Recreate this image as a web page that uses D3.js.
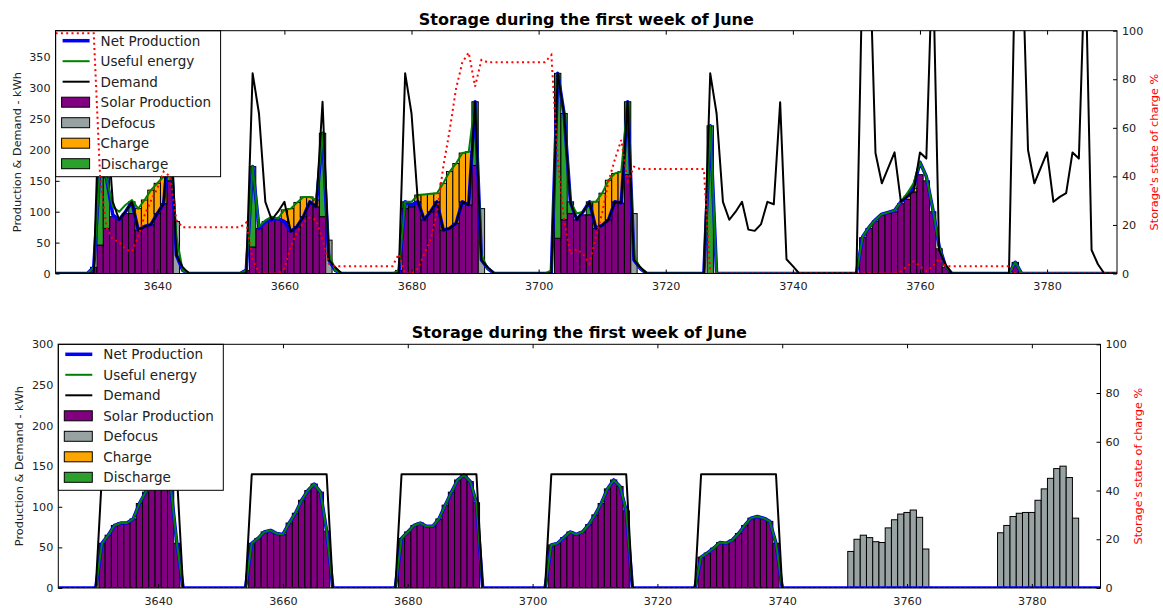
<!DOCTYPE html>
<html>
<head>
<meta charset="utf-8">
<script src="https://cdn.jsdelivr.net/npm/d3@7"></script>
<style>
  body { margin: 0; background: #fff; }
  svg text { font-family: "DejaVu Sans", sans-serif; }
</style>
</head>
<body>
<div class="chart-holder"></div>
<script>
// Hours of the year shown on the x axis (one value per hour, 7 rows of 24)
const hours = d3.range(3624, 3792);
const xTicks = [3640, 3660, 3680, 3700, 3720, 3740, 3760, 3780];
const socTicks = [0, 20, 40, 60, 80, 100];

// ---- top panel data (kWh, one row per day) ----
const topSolar = [
  0,0,0,0,0,0,10,46,73,92,87,97,97,70,76,79,97,113,150,0,0,0,0,0,
  0,0,0,0,0,0,5,43,73,84,87,89,84,68,76,92,112,108,92,0,0,0,0,0,
  0,0,0,0,0,0,5,105,108,116,87,100,116,70,73,81,116,111,175,0,0,0,0,0,
  0,0,0,0,0,0,0,57,87,97,87,95,95,73,78,87,116,114,160,0,0,0,0,0,
  0,0,0,0,0,0,0,0,0,0,0,0,0,0,0,0,0,0,0,0,0,0,0,0,
  0,0,0,0,0,0,0,58,73,85,94,97,100,113,120,132,160,150,100,40,10,0,0,0,
  0,0,0,0,0,0,0,15,0,0,0,0,0,0,0,0,0,0,0,0,0,0,0,0
];
const topDefocus = [
  0,0,0,0,0,0,0,0,0,0,0,0,0,0,0,0,0,0,0,84,0,0,0,0,
  0,0,0,0,0,0,0,0,0,0,0,0,0,0,0,0,0,0,0,54,0,0,0,0,
  0,0,0,0,0,0,0,0,0,0,0,0,0,0,0,0,0,0,0,105,0,0,0,0,
  0,0,0,0,0,0,0,0,0,0,0,0,0,0,0,0,0,0,0,97,0,0,0,0,
  0,0,0,0,0,0,0,0,0,0,0,0,0,0,0,0,0,0,0,0,0,0,0,0,
  0,0,0,0,0,0,0,0,0,0,0,0,0,0,0,0,0,0,0,0,0,0,0,0,
  0,0,0,0,0,0,0,0,0,0,0,0,0,0,0,0,0,0,0,0,0,0,0,0
];
const topCharge = [
  0,0,0,0,0,0,0,0,0,0,0,0,0,35,43,56,49,44,0,0,0,0,0,0,
  0,0,0,0,0,0,0,0,0,0,0,0,19,37,39,32,12,11,0,0,0,0,0,0,
  0,0,0,0,0,0,0,0,0,11,41,29,14,76,92,97,79,86,0,0,0,0,0,0,
  0,0,0,0,0,0,0,0,0,0,0,0,0,43,52,64,46,51,0,0,0,0,0,0,
  0,0,0,0,0,0,0,0,0,0,0,0,0,0,0,0,0,0,0,0,0,0,0,0,
  0,0,0,0,0,0,0,0,0,0,0,0,0,0,5,6,0,0,0,0,0,0,0,0,
  0,0,0,0,0,0,0,0,0,0,0,0,0,0,0,0,0,0,0,0,0,0,0,0
];
const topDischarge = [
  0,0,0,0,0,0,0,126,82,0,0,0,19,0,0,0,0,0,77,0,0,0,0,0,
  0,0,0,0,0,0,0,130,0,0,0,0,0,0,0,0,0,0,135,0,0,0,0,0,
  0,0,0,0,0,0,0,11,3,0,0,0,0,0,0,0,0,0,103,0,0,0,0,0,
  0,0,0,0,0,0,0,267,172,19,0,0,21,0,0,0,0,0,118,0,0,0,0,0,
  0,0,0,0,0,0,0,239,0,0,0,0,0,0,0,0,0,0,0,0,0,0,0,0,
  0,0,0,0,0,0,0,0,0,0,0,0,0,0,0,0,0,0,0,0,0,0,0,0,
  0,0,0,0,0,0,0,3,0,0,0,0,0,0,0,0,0,0,0,0,0,0,0,0
];
const topNet = [
  0,0,0,0,0,0,10,172,155,95,87,100,116,70,76,79,97,113,227,30,5,0,0,0,
  0,0,0,0,0,0,5,173,73,84,87,89,84,68,76,92,116,108,227,22,5,0,0,0,
  0,0,0,0,0,0,0,116,111,116,87,100,116,70,73,81,116,111,278,22,8,0,0,0,
  0,0,0,0,0,0,0,324,259,116,87,100,116,73,78,87,116,114,278,22,8,0,0,0,
  0,0,0,0,0,0,0,239,0,0,0,0,0,0,0,0,0,0,0,0,0,0,0,0,
  0,0,0,0,0,0,0,60,75,87,96,99,102,116,125,140,180,157,105,45,12,0,0,0,
  0,0,0,0,0,0,0,18,0,0,0,0,0,0,0,0,0,0,0,0,0,0,0,0
];
const topUseful = [
  0,0,0,0,0,0,10,172,155,108,100,111,119,105,119,135,146,157,227,60,5,0,0,0,
  0,0,0,0,0,0,5,173,76,86,92,89,103,105,115,124,124,119,227,33,5,0,0,0,
  0,0,0,0,0,0,5,116,116,127,128,129,130,146,165,178,195,197,278,30,8,0,0,0,
  0,0,0,0,0,0,5,324,259,116,97,100,116,116,130,151,162,165,278,30,8,0,0,0,
  0,0,0,0,0,0,0,239,0,0,0,0,0,0,0,0,0,0,0,0,0,0,0,0,
  0,0,0,0,0,0,0,60,75,87,96,99,102,116,130,146,180,157,105,45,12,0,0,0,
  0,0,0,0,0,0,0,18,0,0,0,0,0,0,0,0,0,0,0,0,0,0,0,0
];
const topDemand = [
  0,0,0,0,0,0,0,324,259,116,87,100,116,70,76,79,97,113,278,30,10,0,0,0,
  0,0,0,0,0,0,0,324,259,116,87,100,116,68,76,92,116,108,278,22,10,0,0,0,
  0,0,0,0,0,0,0,324,259,116,87,100,116,70,73,81,116,111,278,22,10,0,0,0,
  0,0,0,0,0,0,0,324,259,116,87,100,116,73,78,87,116,114,278,22,10,0,0,0,
  0,0,0,0,0,0,0,324,259,116,87,100,116,71,69,80,116,112,277,23,12,0,0,0,
  0,0,0,0,0,0,0,520,550,195,146,171,196,116,125,133,196,186,520,38,15,0,0,0,
  0,0,0,0,0,0,0,520,550,200,146,171,196,116,124,130,196,186,520,38,15,0,0,0
];
// storage state of charge, %
const topSoc = [
  99,99,99,99,99,99,99,40,19,14,13,10,9,15,24,30,35,42,40,22,19,19,19,19,
  19,19,19,19,19,19,21,6,0,0,0,0,2,11,17,21,23,22,14,4,3,3,3,3,
  3,3,3,3,3,3,8,0,0,2,8,14,25,44,59,76,87,91,77,88,87,87,87,87,
  87,87,87,87,87,87,90,47,22,8,10,8,4,15,25,38,47,55,38,44,43,43,43,43,
  43,43,43,43,43,43,43,0,0,0,0,0,0,0,0,0,0,0,0,0,0,0,0,0,
  0,0,0,0,0,0,0,0,0,0,0,0,0,1,3,5,3,1,3,6,3,3,3,3,
  3,3,3,3,3,3,3,0,0,0,0,0,0,0,0,0,0,0,0,0,0,0,0,0
];

// ---- bottom panel data ----
// solar production; net production and useful energy are the same curve here
const botSolar = [
  0,0,0,0,0,0,0,55,65,77,80,80,85,104,118,132,142,142,125,55,0,0,0,0,
  0,0,0,0,0,0,0,55,61,69,71,67,66,80,92,108,120,128,118,70,0,0,0,0,
  0,0,0,0,0,0,0,61,69,77,80,76,76,85,102,118,133,139,131,105,0,0,0,0,
  0,0,0,0,0,0,0,53,55,62,69,66,69,78,90,104,122,133,125,95,0,0,0,0,
  0,0,0,0,0,0,0,38,43,49,56,55,59,67,77,86,88,86,82,55,0,0,0,0,
  0,0,0,0,0,0,0,0,0,0,0,0,0,0,0,0,0,0,0,0,0,0,0,0,
  0,0,0,0,0,0,0,0,0,0,0,0,0,0,0,0,0,0,0,0,0,0,0,0
];
const botDefocus = [
  0,0,0,0,0,0,0,0,0,0,0,0,0,0,0,0,0,0,0,0,0,0,0,0,
  0,0,0,0,0,0,0,0,0,0,0,0,0,0,0,0,0,0,0,0,0,0,0,0,
  0,0,0,0,0,0,0,0,0,0,0,0,0,0,0,0,0,0,0,0,0,0,0,0,
  0,0,0,0,0,0,0,0,0,0,0,0,0,0,0,0,0,0,0,0,0,0,0,0,
  0,0,0,0,0,0,0,0,0,0,0,0,0,0,0,0,0,0,0,0,0,0,0,0,
  0,0,0,0,0,0,0,45,60,65,62,57,56,74,84,91,93,96,87,48,0,0,0,0,
  0,0,0,0,0,0,0,68,77,88,92,93,93,108,122,135,147,150,136,86,0,0,0,0
];
const botDemand = [
  0,0,0,0,0,0,0,140,140,140,140,140,140,140,140,140,140,140,140,140,0,0,0,0,
  0,0,0,0,0,0,0,140,140,140,140,140,140,140,140,140,140,140,140,140,0,0,0,0,
  0,0,0,0,0,0,0,140,140,140,140,140,140,140,140,140,140,140,140,140,0,0,0,0,
  0,0,0,0,0,0,0,140,140,140,140,140,140,140,140,140,140,140,140,140,0,0,0,0,
  0,0,0,0,0,0,0,140,140,140,140,140,140,140,140,140,140,140,140,140,0,0,0,0,
  0,0,0,0,0,0,0,0,0,0,0,0,0,0,0,0,0,0,0,0,0,0,0,0,
  0,0,0,0,0,0,0,0,0,0,0,0,0,0,0,0,0,0,0,0,0,0,0,0
];
const botSoc = [
  0,0,0,0,0,0,0,0,0,0,0,0,0,0,0,0,0,0,0,0,0,0,0,0,
  0,0,0,0,0,0,0,0,0,0,0,0,0,0,0,0,0,0,0,0,0,0,0,0,
  0,0,0,0,0,0,0,0,0,0,0,0,0,0,0,0,0,0,0,0,0,0,0,0,
  0,0,0,0,0,0,0,0,0,0,0,0,0,0,0,0,0,0,0,0,0,0,0,0,
  0,0,0,0,0,0,0,0,0,0,0,0,0,0,0,0,0,0,0,0,0,0,0,0,
  0,0,0,0,0,0,0,0,0,0,0,0,0,0,0,0,0,0,0,0,0,0,0,0,
  0,0,0,0,0,0,0,0,0,0,0,0,0,0,0,0,0,0,0,0,0,0,0,0
];
const noBars = botSoc;

const legendItems = [
  { label: 'Net Production', type: 'line', color: 'blue', width: 3.5 },
  { label: 'Useful energy', type: 'line', color: 'green', width: 2 },
  { label: 'Demand', type: 'line', color: 'black', width: 2 },
  { label: 'Solar Production', type: 'rect', color: '#800080' },
  { label: 'Defocus', type: 'rect', color: '#98a2a2' },
  { label: 'Charge', type: 'rect', color: '#ffa500' },
  { label: 'Discharge', type: 'rect', color: '#2ca02c' }
];

const svg = d3.select('.chart-holder').append('svg')
  .attr('width', 1163)
  .attr('height', 608);

function drawPanel(p, s) {
  const x = d3.scaleLinear().domain([3624, 3791]).range([p.left, p.right]);
  const y = d3.scaleLinear().domain([0, p.yMax]).range([p.bottom, p.top]);
  const y2 = d3.scaleLinear().domain([0, 100]).range([p.bottom, p.top]);

  svg.append('clipPath').attr('id', p.id + '-clip').append('rect')
    .attr('x', p.left).attr('y', p.top)
    .attr('width', p.right - p.left).attr('height', p.bottom - p.top);

  const plot = svg.append('g').attr('clip-path', 'url(#' + p.id + '-clip)');

  // bars, one per hour centred on the hour, optionally stacked on the solar bars
  function bars(vals, base, color) {
    const d = hours.map((h, i) => ({ h: h, v: vals[i], b: base ? base[i] : 0 }))
      .filter(d => d.v > 0);
    plot.append('g').selectAll('rect').data(d).join('rect')
      .attr('x', d => x(d.h - 0.5))
      .attr('width', d => x(d.h + 0.5) - x(d.h - 0.5))
      .attr('y', d => y(d.b + d.v))
      .attr('height', d => y(d.b) - y(d.b + d.v))
      .attr('fill', color)
      .attr('stroke', '#000')
      .attr('stroke-width', 1);
  }
  bars(s.solar, null, '#800080');
  bars(s.defocus, null, '#98a2a2');
  bars(s.charge, s.solar, '#ffa500');
  bars(s.discharge, s.solar, '#2ca02c');

  const line = d3.line().x((d, i) => x(hours[i])).y(d => y(d));
  plot.append('path').attr('d', line(s.net))
    .attr('fill', 'none').attr('stroke', 'blue').attr('stroke-width', 3.5)
    .attr('stroke-linejoin', 'round');
  plot.append('path').attr('d', line(s.useful))
    .attr('fill', 'none').attr('stroke', 'green').attr('stroke-width', 2)
    .attr('stroke-linejoin', 'round');
  plot.append('path').attr('d', line(s.demand))
    .attr('fill', 'none').attr('stroke', 'black').attr('stroke-width', 2)
    .attr('stroke-linejoin', 'round');

  // axes, matplotlib classic style: ticks pointing inwards
  const fontSize = 11.2;
  function styleAxis(g) {
    g.select('.domain').remove();
    g.attr('font-family', '"DejaVu Sans", sans-serif').attr('font-size', fontSize);
    g.selectAll('text').attr('fill', '#222');
  }
  svg.append('g').attr('transform', 'translate(0,' + p.bottom + ')')
    .call(d3.axisBottom(x).tickValues(xTicks).tickSize(-4).tickPadding(9).tickFormat(d3.format('d')))
    .call(styleAxis);
  svg.append('g').attr('transform', 'translate(0,' + p.top + ')')
    .call(d3.axisTop(x).tickValues(xTicks).tickSize(-4).tickFormat(''))
    .call(styleAxis);
  svg.append('g').attr('transform', 'translate(' + p.left + ',0)')
    .call(d3.axisLeft(y).tickValues(p.yTicks).tickSize(-4).tickPadding(5))
    .call(styleAxis);
  svg.append('g').attr('transform', 'translate(' + p.right + ',0)')
    .call(d3.axisRight(y2).tickValues(socTicks).tickSize(-4).tickPadding(5))
    .call(styleAxis);

  // legend
  const lg = svg.append('g').attr('transform', 'translate(' + p.left + ',' + p.top + ')');
  lg.append('rect')
    .attr('width', 165).attr('height', 146)
    .attr('fill', '#fff').attr('stroke', '#000').attr('stroke-width', 1);
  legendItems.forEach((item, i) => {
    const cy = 10 + i * 20.5;
    if (item.type === 'line') {
      lg.append('line')
        .attr('x1', 7).attr('x2', 34).attr('y1', cy).attr('y2', cy)
        .attr('stroke', item.color).attr('stroke-width', item.width);
    } else {
      lg.append('rect')
        .attr('x', 6).attr('y', cy - 5).attr('width', 28).attr('height', 10)
        .attr('fill', item.color).attr('stroke', '#000').attr('stroke-width', 1);
    }
    lg.append('text')
      .attr('x', 45).attr('y', cy).attr('dy', '0.36em')
      .style('font-size', '13.5px').attr('fill', '#222')
      .text(item.label);
  });

  // storage state of charge on the secondary axis, drawn over the legend
  const socLine = d3.line().x((d, i) => x(hours[i])).y(d => y2(d));
  svg.append('g').attr('clip-path', 'url(#' + p.id + '-clip)')
    .append('path').attr('d', socLine(s.soc))
    .attr('fill', 'none').attr('stroke', 'red').attr('stroke-width', 2)
    .attr('stroke-dasharray', '2,3.3');

  // frame
  svg.append('rect')
    .attr('x', p.left).attr('y', p.top)
    .attr('width', p.right - p.left).attr('height', p.bottom - p.top)
    .attr('fill', 'none').attr('stroke', '#000').attr('stroke-width', 1);

  // title and axis labels
  svg.append('text')
    .attr('x', (p.left + p.right) / 2).attr('y', p.top - 6)
    .attr('text-anchor', 'middle')
    .style('font-size', '16px').style('font-weight', 'bold')
    .text('Storage during the first week of June');
  svg.append('text')
    .attr('transform', 'translate(' + p.ylabelX + ',' + (p.top + p.bottom) / 2 + ') rotate(-90)')
    .attr('text-anchor', 'middle').attr('dy', '0.35em')
    .style('font-size', '11.3px').attr('fill', '#222')
    .text('Production & Demand - kWh');
  svg.append('text')
    .attr('transform', 'translate(' + p.y2labelX + ',' + (p.top + p.bottom) / 2 + ') rotate(-90)')
    .attr('text-anchor', 'middle').attr('dy', '0.35em')
    .style('font-size', '11.3px').attr('fill', 'red')
    .text("Storage's state of charge %");
}

drawPanel(
  { id: 'top', left: 55.6, right: 1117, top: 30.7, bottom: 273.5, yMax: 393,
    yTicks: [0, 50, 100, 150, 200, 250, 300, 350], ylabelX: 17, y2labelX: 1154 },
  { solar: topSolar, defocus: topDefocus, charge: topCharge, discharge: topDischarge,
    net: topNet, useful: topUseful, demand: topDemand, soc: topSoc }
);

drawPanel(
  { id: 'bot', left: 58.3, right: 1100.5, top: 344.3, bottom: 588, yMax: 300,
    yTicks: [0, 50, 100, 150, 200, 250, 300], ylabelX: 19, y2labelX: 1138 },
  { solar: botSolar, defocus: botDefocus, charge: noBars, discharge: noBars,
    net: botSolar, useful: botSolar, demand: botDemand, soc: botSoc }
);
</script>
</body>
</html>
